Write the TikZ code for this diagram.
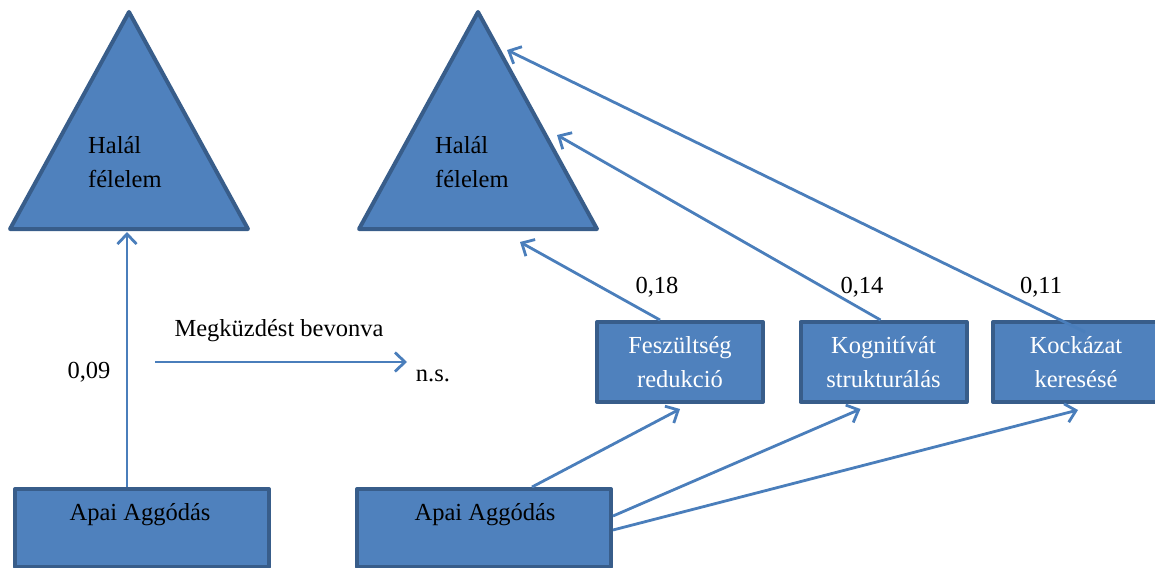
\documentclass[tikz,border=0pt]{standalone}
\usepackage{fontspec}
\setmainfont{Liberation Serif}
\usetikzlibrary{arrows.meta,calc}
\definecolor{shapefill}{HTML}{4F81BD}
\definecolor{shapeline}{HTML}{385D8A}
\definecolor{linkblue}{HTML}{4A7EBB}
\begin{document}
\begin{tikzpicture}[x=1pt,y=-1pt,
  font=\fontsize{24.5}{34}\selectfont,
  blueshape/.style={fill=shapefill,draw=shapeline,line width=4pt,line join=round},
  bigbox/.style={blueshape,minimum width=254pt,minimum height=78pt,inner sep=0pt},
  smallbox/.style={blueshape,minimum width=166pt,minimum height=80pt,inner sep=0pt,
    align=center,text=white},
  link/.style={draw=linkblue,line width=2.8pt,
    -{Straight Barb[length=10pt,width=19pt,line width=2.8pt]}}]
\useasboundingbox (0,0) rectangle (1155,567);

% the two "Halál félelem" triangles
\draw[blueshape] (10,229) coordinate (triLa) -- (129,12) coordinate (triLtop)
  -- (248,229) coordinate (triLb) -- cycle;
\draw[blueshape] (359,229) coordinate (triRa) -- (478,12) coordinate (triRtop)
  -- (597,229) coordinate (triRb) -- cycle;
\node[anchor=base west,align=left,inner sep=0pt] (halL) at (88,187) {Halál\\félelem};
\node[anchor=base west,align=left,inner sep=0pt] (halR) at (435,187) {Halál\\félelem};

% predictor boxes
\node[bigbox,anchor=north west] (apaiL) at (13,487) {};
\node[bigbox,anchor=north west] (apaiR) at (355,487) {};
\node[anchor=base,inner sep=0pt] (apaiLt) at ($(apaiL.north)+(-2,33)$) {Apai Aggódás};
\node[anchor=base,inner sep=0pt] (apaiRt) at ($(apaiR.north)+(1,33)$) {Apai Aggódás};

% coping boxes
\node[smallbox] (fesz) at (680,362) {Feszültség\\redukció};
\node[smallbox] (kogn) at (883.5,362) {Kognitívát\\strukturálás};
\node[smallbox] (kock) at (1076,362) {Kockázat\\keresésé};

% path coefficients
\node (c09) at (89,372) {0,09};
\node (c18) at (657,287) {0,18};
\node (c14) at (862,287) {0,14};
\node (c11) at (1041,287) {0,11};

% direct effect (left model)
\coordinate (vL) at (127,232);
\draw[link] (apaiL.north west -| vL) -- (vL);

% controlled for coping
\coordinate (hs) at (155,362);
\coordinate (he) at (407,362);
\draw[link] (hs) -- (he);
\node (mb) at (279,331) {Megküzdést bevonva};
\node (ns) at (433,376) {n.s.};

% coping -> fear of death
\coordinate (tF) at (520,242);
\coordinate (tK) at (557,135);
\coordinate (tC) at (507,50);
\draw[link] ($(fesz.north)+(-20,0)$) -- (tF);
\draw[link] ($(kogn.north)+(-3,0)$) -- (tK);
\draw[link] ($(kock.north)+(9,12)$) -- (tC);

% paternal worry -> coping
\draw[link] (apaiR.north west -| 532,0) -- ($(fesz.south)+(0,5)$);
\draw[link] ($(apaiR.north east)+(0,29)$) -- ($(kogn.south)+(-23,5)$);
\draw[link] ($(apaiR.north east)+(0,43)$) -- ($(kock.south)+(2,6)$);
\end{tikzpicture}
\end{document}
